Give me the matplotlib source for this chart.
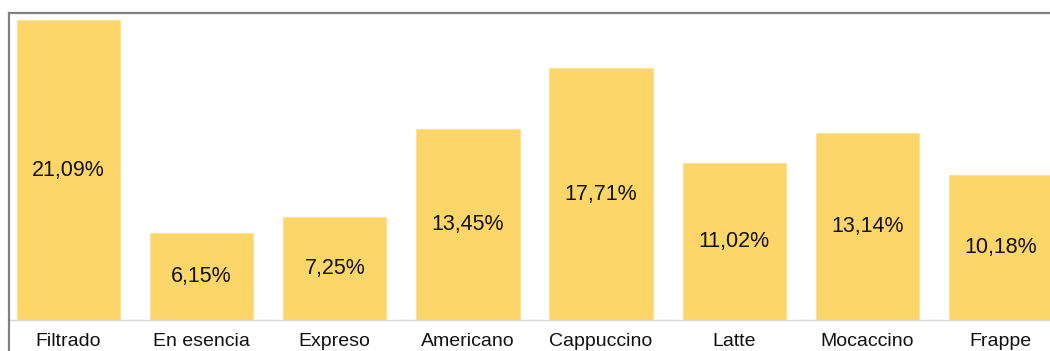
import matplotlib
matplotlib.use("Agg")
import matplotlib.pyplot as plt
from matplotlib.lines import Line2D

categories = ["Filtrado", "En esencia", "Expreso", "Americano", "Cappuccino",
              "Latte", "Mocaccino", "Frappe"]
shares = [21.09, 6.15, 7.25, 13.45, 17.71, 11.02, 13.14, 10.18]
value_labels = ["21,09%", "6,15%", "7,25%", "13,45%", "17,71%", "11,02%",
                "13,14%", "10,18%"]

plt.rcParams["font.family"] = ["Liberation Sans", "DejaVu Sans"]

W, H = 1050, 351
fig = plt.figure(figsize=(W / 100, H / 100), dpi=100)
left_px, top_px, bottom_px, right_px = 9, 12.5, 320, 1060
ax = fig.add_axes([left_px / W, (H - bottom_px) / H,
                   (right_px - left_px) / W, (bottom_px - top_px) / H])

x = list(range(len(categories)))
bars = ax.bar(x, shares, width=0.775, color="#FCD668",
              edgecolor="#FDE294", linewidth=0.8, zorder=2)

for xi, v, lab in zip(x, shares, value_labels):
    ax.text(xi, v / 2, lab, ha="center", va="center", fontsize=15.5,
            color="#111111", zorder=3)

ax.set_xlim(-0.447, len(categories) - 1 + 0.447)
ax.set_ylim(0, 21.63)
ax.set_xticks(x)
ax.set_xticklabels(categories, fontsize=14, color="#111111")
ax.tick_params(axis="x", length=0, pad=9)
ax.set_yticks([])

for side in ("top", "left", "right"):
    ax.spines[side].set_color("#808080")
    ax.spines[side].set_linewidth(1.6)
ax.spines["bottom"].set_color("#D9D9D9")
ax.spines["bottom"].set_linewidth(1.0)

# outer frame continues below the plot area on the left
fig.add_artist(Line2D([left_px / W, left_px / W], [0, (H - bottom_px) / H],
                      transform=fig.transFigure, color="#808080", lw=1.6))

fig.savefig("out.png", dpi=100)
